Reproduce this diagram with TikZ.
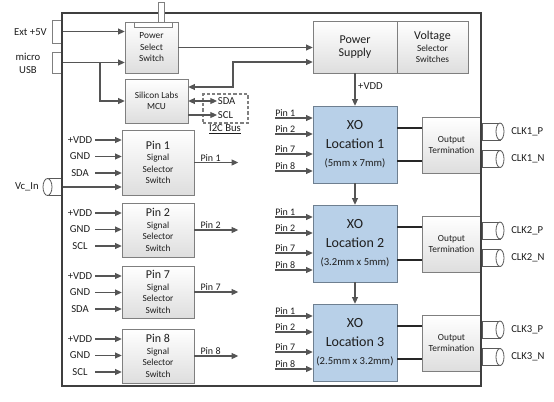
\documentclass[tikz,border=0pt]{standalone}
\usepackage{fontspec}
\setmainfont{Carlito}
\usetikzlibrary{arrows.meta}
\definecolor{boardline}{HTML}{3F3F3F}
\definecolor{boxline}{HTML}{7F7F7F}
\definecolor{arrline}{HTML}{555555}
\definecolor{xofill}{HTML}{B8D0E8}
\definecolor{xoline}{HTML}{6E7F90}
\definecolor{txt}{HTML}{1E1E1E}
\newcommand{\pxu}{0.75pt}

\begin{document}
\begin{tikzpicture}[x=0.75pt, y=-0.75pt,
    every node/.style={text=txt, font=\fontsize{8}{9.75}\selectfont},
    blk/.style={draw=boxline, top color=white, bottom color=black!13, inner sep=0pt, align=center, font=\fontsize{7}{8.6}\selectfont},
    xoblk/.style={draw=xoline, fill=xofill, inner sep=0pt, align=center, font=\fontsize{10.5}{14}\selectfont},
    jack/.style={draw=boxline, fill=white, inner sep=0pt, minimum width=10*\pxu},
    pinlbl/.style={anchor=south west, inner xsep=0pt, inner ysep=0.8pt, font=\fontsize{7.5}{9}\selectfont},
    arr/.style={draw=arrline, line width=0.8pt, -{Triangle[length=5pt,width=4.5pt]}},
    arr2/.style={draw=arrline, line width=0.8pt, {Triangle[length=5pt,width=4.5pt]}-{Triangle[length=5pt,width=4.5pt]}},
    bus/.style={draw=black!85, line width=1.6pt},
    coax/.style={draw=boxline!70!black, fill=white, line width=0.6pt},
    board/.style={draw=boardline, line width=2pt}]
    \useasboundingbox (0,0) rectangle (554,401);

    % POWER INPUTS
    \node[jack, minimum height=23*\pxu] (extj) at (57,31.5) {};
    \node[jack, minimum height=21*\pxu] (usbj) at (57,62.5) {};
    \node[anchor=east, inner sep=0pt] (extl) at (47,32) {Ext +5V};
    \node[align=center, inner sep=0pt] (usbl) at (28,63.5) {micro\\USB};

    % POWER SELECT SWITCH AND MCU
    \node[blk, minimum width=53*\pxu, minimum height=51*\pxu] (pss) at (151.5,47.5) {Power\\Select\\Switch};
    \node[blk, minimum width=63*\pxu, minimum height=44*\pxu] (mcu) at (156.5,101) {Silicon Labs\\MCU};

    % POWER SUPPLY
    \node[blk, minimum width=84*\pxu, minimum height=52*\pxu, font=\fontsize{9}{9.75}\selectfont] (ps) at (355,47) {Power\\Supply};
    \node[blk, minimum width=71*\pxu, minimum height=52*\pxu] (vss) at (432.5,47) {{\fontsize{9}{9.75}\selectfont Voltage}\\Selector\\Switches};

    % I2C BUS
    \node[draw=boxline, dash pattern=on 2.5pt off 1.5pt, line width=0.8pt, minimum width=45*\pxu, minimum height=29*\pxu] (i2c) at (225.5,108.5) {};
    \node[anchor=west, inner sep=0.5pt] (sda) at (217,101) {SDA};
    \node[anchor=west, inner sep=0.5pt] (scl) at (217,115) {SCL};
    \node[inner sep=0pt] (i2cl) at (225,129) {\underline{I2C Bus}};

    % XO LOCATIONS
    \foreach \i/\yt/\dimtxt in {1/106/{(5mm x 7mm)}, 2/205/{(3.2mm x 5mm)}, 3/304/{(2.5mm x 3.2mm)}} {
        \node[xoblk, minimum width=84*\pxu, minimum height=77*\pxu] (xo\i) at (355,\yt+38.5) {XO\\Location \i\\{\fontsize{8}{12}\selectfont\dimtxt}};
        \node[blk, minimum width=59*\pxu, minimum height=55.5*\pxu] (ot\i) at (451.5,\yt+39.25) {Output\\Termination};
        \foreach \p/\dy in {1/12,2/28,7/48,8/65} {
            \node[pinlbl] (pin\i\p) at (275,\yt+\dy) {Pin \p};
            \draw[arr] (pin\i\p.south west) -- (pin\i\p.south west -| xo\i.west);
        }
        % termination lines
        \path (xo\i.north east) ++(0,22) coordinate (tp\i) ++(0,33) coordinate (tn\i);
        \draw[bus] (tp\i) -- (tp\i -| ot\i.west);
        \draw[bus] (tn\i) -- (tn\i -| ot\i.west);
        % clock outputs
        \foreach \s/\dy in {P/25.5, N/53} {
            \filldraw[coax] (482,\yt+\dy-8.5) rectangle (500,\yt+\dy+8.5);
            \filldraw[coax] (500,\yt+\dy) ellipse (4 and 8.5);
            \node[anchor=west, inner sep=0pt] (clk\i\s) at (511,\yt+\dy) {CLK\i\_\s};
        }
    }
    \draw[arr] (xo1.south) -- (xo2.north);
    \draw[arr] (xo2.south) -- (xo3.north);

    % SIGNAL SELECTORS
    \foreach \i/\yt/\h/\sig in {1/130/65/SDA, 2/203/54/SCL, 7/266/52/SDA, 8/329/54/SCL} {
        \node[blk, minimum width=72*\pxu, minimum height=\h*\pxu] (sel\i) at (158,\yt+\h/2) {{\fontsize{9}{10.5}\selectfont Pin \i}\\Signal\\Selector\\Switch};
        \node (vdd\i) at (80,\yt+10) {+VDD};
        \node (gnd\i) at (80,\yt+26.5) {GND};
        \node (sig\i) at (80,\yt+43) {\sig};
        \foreach \n in {vdd,gnd,sig}
            \draw[arr] ([xshift=11.25pt]\n\i.center) -- (\n\i -| sel\i.west);
        \draw[arr] (sel\i.east) -- ++(44,0) coordinate (out\i);
        \node[pinlbl] (outl\i) at ([xshift=4.5pt]sel\i.east) {Pin \i};
    }

    % VC_IN
    \filldraw[coax] (47.5,178.5) rectangle (62,195.5);
    \filldraw[coax] (47.5,187) ellipse (4.5 and 8.5);
    \node[anchor=east, inner sep=0pt] (vcl) at (39,187) {Vc\_In};
    \coordinate (vcin) at (62,187);
    \draw[arr] (vcin) -- (vcin -| sel1.west);

    % CONNECTIONS
    \draw[arr] (extj.east) -- (extj.east -| pss.west);
    \draw[arr] (usbj.east) -- (usbj.east -| pss.west);
    \coordinate (usbtap) at (100,62.5);
    \draw[arr] (usbtap) |- (mcu.west);
    \draw[arr] (pss.east) -- (pss.east -| ps.west);
    \coordinate (pwrbend) at (233,62);
    \draw[arr2] ([yshift=10.5pt]mcu.east) -| (pwrbend) -- (pwrbend -| ps.west);
    \draw[arr2] (mcu.east |- sda.west) -- (sda.west);
    \draw[arr] (mcu.east |- scl.west) -- (scl.west);
    \draw[arr] (ps.south) -- (xo1.north) node[pos=0.4, right, inner sep=2pt] (vddl) {+VDD};

    % BOARD
    \draw[board] (62,13) rectangle (481,386);
    % switch lever
    \draw[boxline, fill=white] (134,22) rectangle (172,27);
    \draw[boxline, fill=white] (158,2) rectangle (164,22);
\end{tikzpicture}
\end{document}
